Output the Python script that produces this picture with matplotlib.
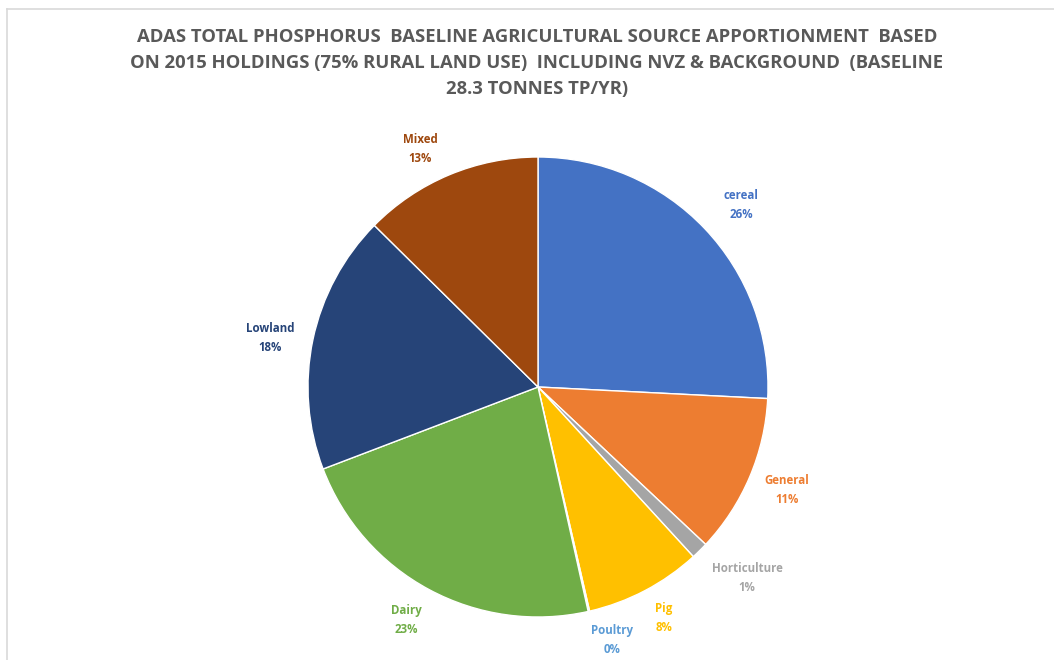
import matplotlib
matplotlib.use("Agg")
import matplotlib.pyplot as plt
from matplotlib.lines import Line2D

# Data (share of baseline TP load, %)
categories = ["cereal", "General", "Horticulture", "Pig", "Poultry", "Dairy", "Lowland", "Mixed"]
values = [25.8, 11.2, 1.2, 8.2, 0.1, 22.7, 18.2, 12.6]
colors = ["#4472C4", "#ED7D31", "#A5A5A5", "#FFC000", "#5B9BD5", "#70AD47", "#264478", "#9E480E"]
title_lines = [
    "ADAS TOTAL PHOSPHORUS  BASELINE AGRICULTURAL SOURCE APPORTIONMENT  BASED",
    "ON 2015 HOLDINGS (75% RURAL LAND USE)  INCLUDING NVZ & BACKGROUND  (BASELINE",
    "28.3 TONNES TP/YR)",
]
# label anchor positions relative to pie (units of radius)
label_pos = [(0.883, 0.791), (1.083, -0.448), (0.909, -0.830), (0.548, -1.004),
             (0.322, -1.100), (-0.574, -1.013), (-1.165, 0.213), (-0.513, 1.035)]

W, H = 1054, 660
fig = plt.figure(figsize=(W / 100, H / 100), dpi=100)
fig.patch.set_facecolor("white")

# chart border (top and left visible)
fig.add_artist(Line2D([7 / W, 1.0], [1 - 9 / H, 1 - 9 / H], transform=fig.transFigure,
                      color="#D9D9D9", lw=1.2))
fig.add_artist(Line2D([7 / W, 7 / W], [0, 1 - 9 / H], transform=fig.transFigure,
                      color="#D9D9D9", lw=1.2))

cx, cy, r = 538, 387, 230
ax = fig.add_axes([(cx - r) / W, (H - cy - r) / H, 2 * r / W, 2 * r / H])
ax.pie(values, colors=colors, startangle=90, counterclock=False, radius=1,
       wedgeprops=dict(edgecolor="white", linewidth=1.0))
ax.set_xlim(-1, 1)
ax.set_ylim(-1, 1)
ax.set_aspect("auto")
ax.axis("off")

lab_font = ["Open Sans", "DejaVu Sans"]
for cat, v, col, (lx, ly) in zip(categories, values, colors, label_pos):
    ax.text(lx, ly, f"{cat}\n{round(v):d}%", color=col, ha="center", va="center",
            fontsize=8.3, fontweight="bold", family=lab_font, linespacing=1.6,
            clip_on=False)

title_font = ["Open Sans", "DejaVu Sans"]
for i, line in enumerate(title_lines):
    fig.text(537 / W, 1 - (37 + 26 * i) / H, line, ha="center", va="center",
             fontsize=13.3, fontweight="bold", color="#595959", family=title_font)

fig.savefig("out.png", dpi=100, facecolor="white")
